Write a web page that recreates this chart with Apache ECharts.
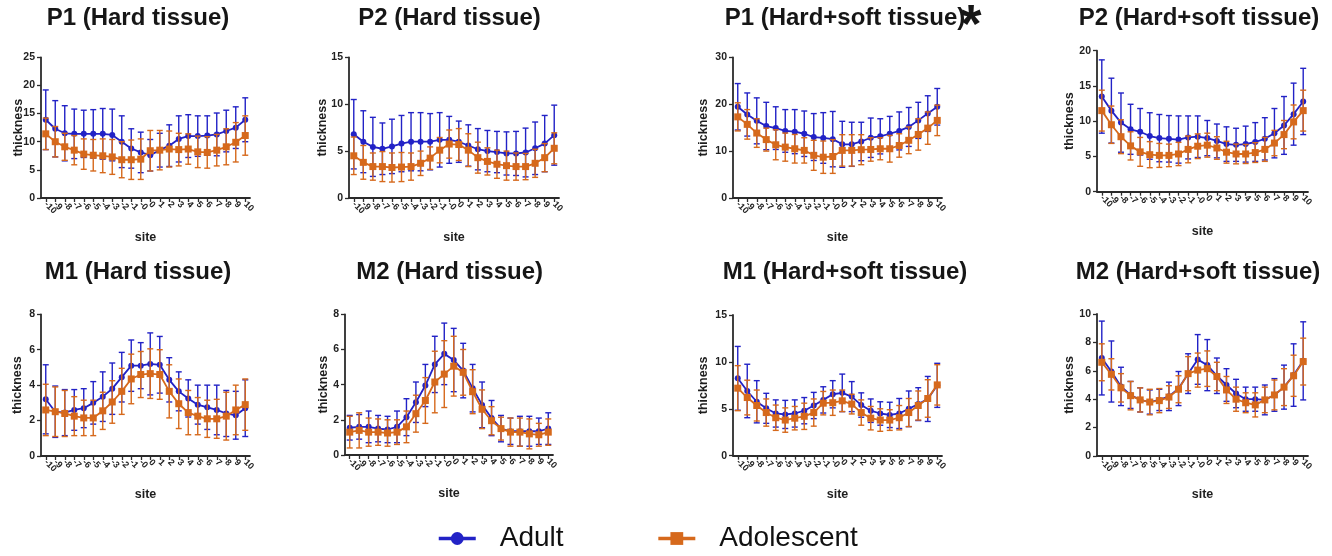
<!DOCTYPE html>
<html><head><meta charset="utf-8">
<script src="https://cdn.jsdelivr.net/npm/echarts@6/dist/echarts.min.js"></script>
<style>html,body{margin:0;padding:0;background:#fff}#c{width:1332px;height:556px}</style>
</head><body><div id="c"></div>
<script>
// ---------------- DATA ----------------
const sites = ['-10','-9','-8','-7','-6','-5','-4','-3','-2','-1','-0','0','1','2','3','4','5','6','7','8','9','10'];
const panelTitles = ['P1 (Hard tissue)','P2 (Hard tissue)','P1 (Hard+soft tissue)','P2 (Hard+soft tissue)',
                     'M1 (Hard tissue)','M2 (Hard tissue)','M1 (Hard+soft tissue)','M2 (Hard+soft tissue)'];
const yMax  = [25, 15, 30, 20, 8, 8, 15, 10];
const yStep = [5, 5, 10, 5, 2, 2, 5, 2];
const seriesNames = ['Adult', 'Adolescent'];

// P1 (Hard tissue)
const p1HardAdultMean = [13.9,12.3,11.5,11.4,11.4,11.4,11.4,11.2,10.0,8.8,8.1,7.6,8.5,9.3,10.5,11.0,11.0,11.1,11.3,11.9,12.5,13.9];
const p1HardAdultSD   = [5.3,5.0,4.9,4.4,4.2,4.3,4.5,4.6,4.6,3.5,3.6,2.8,3.0,3.7,4.1,3.8,3.6,3.5,3.8,3.7,3.7,3.9];
const p1HardAdolMean  = [11.4,10.0,9.1,8.5,7.8,7.6,7.5,7.3,6.8,6.8,6.9,8.4,8.5,8.7,8.6,8.7,8.2,8.1,8.5,9.1,9.9,11.1];
const p1HardAdolSD    = [2.8,2.7,2.4,2.6,2.7,2.8,3.0,3.1,3.2,3.5,3.6,3.6,3.5,3.2,2.9,2.7,2.8,2.8,2.8,3.2,3.5,3.5];
// P2 (Hard tissue)
const p2HardAdultMean = [6.8,6.0,5.45,5.25,5.5,5.8,6.0,6.0,6.0,6.2,6.2,6.0,5.6,5.2,5.0,4.9,4.75,4.75,4.85,5.3,5.8,6.7];
const p2HardAdultSD   = [3.7,3.3,3.15,2.75,2.9,3.0,3.1,3.1,3.0,2.9,2.5,2.2,2.2,2.2,2.2,2.2,2.3,2.35,2.6,2.8,3.0,3.2];
const p2HardAdolMean  = [4.5,3.8,3.35,3.35,3.25,3.3,3.35,3.7,4.25,5.1,5.75,5.7,5.1,4.3,3.9,3.6,3.45,3.35,3.35,3.7,4.3,5.3];
const p2HardAdolSD    = [2.0,1.8,1.45,1.6,1.55,1.55,1.45,1.3,1.2,1.35,1.5,1.7,1.75,1.65,1.45,1.5,1.55,1.45,1.4,1.5,1.5,1.65];
// P1 (Hard+soft tissue)
const p1SoftAdultMean = [19.45,17.8,16.45,15.35,14.9,14.3,14.15,13.7,13.0,12.8,12.55,11.45,11.45,12.05,12.85,13.15,13.7,14.3,15.15,16.55,18.0,19.45];
const p1SoftAdultSD   = [4.95,4.6,4.9,5.05,4.55,4.55,4.7,4.85,5.0,5.4,5.9,4.9,4.7,4.1,4.2,3.75,3.7,4.05,4.15,3.85,3.8,3.9];
const p1SoftAdolMean  = [17.3,15.7,13.85,12.45,11.35,10.85,10.5,10.15,9.1,8.7,8.85,10.15,10.15,10.3,10.35,10.5,10.5,11.2,12.3,13.55,14.9,16.55];
const p1SoftAdolSD    = [3.0,3.15,3.05,2.45,3.2,3.0,3.05,2.7,3.2,3.45,3.6,3.35,3.35,3.2,2.5,2.35,2.85,2.5,2.85,3.35,3.45,3.25];
// P2 (Hard+soft tissue)
const p2SoftAdultMean = [13.5,11.5,9.8,8.85,8.5,7.9,7.6,7.5,7.4,7.7,7.8,7.6,7.2,6.75,6.65,6.75,7.05,7.5,8.3,9.4,11.0,12.8];
const p2SoftAdultSD   = [5.2,4.6,4.2,3.55,3.3,3.3,3.35,3.3,3.35,3.05,2.95,2.5,2.4,2.45,2.35,2.55,2.75,3.0,3.5,4.1,4.4,4.7];
const p2SoftAdolMean  = [11.5,9.5,7.8,6.5,5.65,5.25,5.15,5.15,5.35,6.0,6.45,6.6,6.2,5.6,5.35,5.35,5.55,6.0,6.9,8.1,9.9,11.5];
const p2SoftAdolSD    = [2.9,2.65,2.4,2.0,2.05,1.85,1.7,1.6,1.65,1.9,1.75,1.7,1.6,1.55,1.4,1.35,1.4,1.7,1.8,2.0,2.4,2.9];
// M1 (Hard tissue)
const m1HardAdultMean = [3.2,2.5,2.45,2.6,2.7,3.0,3.35,3.8,4.45,5.1,5.1,5.2,5.15,4.3,3.65,3.25,2.9,2.75,2.6,2.4,2.3,2.7];
const m1HardAdultSD   = [1.95,1.45,1.3,1.15,1.1,1.2,1.4,1.45,1.4,1.45,1.3,1.75,1.6,1.25,1.1,1.05,1.1,1.25,1.4,1.3,1.35,1.6];
const m1HardAdolMean  = [2.6,2.5,2.4,2.25,2.15,2.15,2.55,3.05,3.65,4.35,4.6,4.65,4.6,3.65,2.95,2.45,2.25,2.1,2.1,2.25,2.6,2.9];
const m1HardAdolSD    = [1.45,1.4,1.3,1.1,1.0,1.0,1.05,1.2,1.3,1.4,1.3,1.4,1.4,1.5,1.4,1.25,1.05,1.05,1.1,1.35,1.4,1.45];
// M2 (Hard tissue)
const m2HardAdultMean = [1.55,1.6,1.6,1.5,1.45,1.6,2.15,3.0,3.95,5.15,5.75,5.4,4.8,3.8,2.85,2.1,1.5,1.35,1.35,1.35,1.35,1.5];
const m2HardAdultSD   = [0.7,0.7,0.9,0.75,0.75,0.9,1.05,1.15,1.2,1.6,1.75,1.8,1.55,1.35,1.3,1.0,0.75,0.75,0.85,0.85,0.75,0.9];
const m2HardAdolMean  = [1.3,1.4,1.3,1.3,1.25,1.3,1.6,2.35,3.1,4.15,4.6,5.05,4.7,3.6,2.6,1.95,1.5,1.3,1.3,1.2,1.15,1.3];
const m2HardAdolSD    = [0.9,1.0,0.8,0.75,0.75,0.7,0.9,1.05,1.3,1.75,1.9,1.7,1.3,1.25,1.1,0.8,0.65,0.8,0.8,0.85,0.65,0.75];
// M1 (Hard+soft tissue)
const m1SoftAdultMean = [8.25,6.9,5.75,5.05,4.5,4.4,4.5,4.8,5.35,5.95,6.55,6.7,6.3,5.4,4.8,4.5,4.35,4.5,5.0,5.5,6.05,7.5];
const m1SoftAdultSD   = [3.4,2.85,2.25,1.6,1.45,1.5,1.45,1.4,1.4,1.4,1.45,2.0,1.6,1.3,1.25,1.25,1.35,1.6,1.9,1.75,2.4,2.35];
const m1SoftAdolMean  = [7.2,6.2,5.35,4.6,4.05,3.8,4.0,4.2,4.6,5.6,5.65,5.85,5.5,4.6,4.0,3.8,3.8,4.05,4.6,5.35,6.1,7.55];
const m1SoftAdolSD    = [2.4,1.85,1.65,1.45,1.35,1.3,1.25,1.4,1.45,1.25,1.35,1.15,1.05,1.35,1.25,1.2,1.1,1.3,1.5,1.55,2.0,2.15];
// M2 (Hard+soft tissue)
const m2SoftAdultMean = [6.9,5.95,4.9,4.3,3.95,3.8,3.95,4.2,4.75,5.8,6.8,6.4,5.65,5.0,4.4,4.0,4.0,3.95,4.3,4.85,5.7,6.7];
const m2SoftAdultSD   = [2.6,2.15,1.35,0.95,0.85,0.85,0.75,1.0,1.2,1.4,1.75,1.8,1.25,1.15,1.0,0.85,0.85,1.05,1.15,1.55,2.2,2.75];
const m2SoftAdolMean  = [6.6,5.75,4.8,4.25,3.95,3.8,3.9,4.15,4.7,5.8,6.05,6.15,5.6,4.65,4.0,3.75,3.6,3.95,4.3,4.85,5.65,6.65];
const m2SoftAdolSD    = [1.3,1.1,1.0,1.0,0.85,0.9,0.85,0.8,0.95,1.2,1.2,1.25,1.0,0.95,0.85,0.7,0.85,0.9,1.05,1.3,1.45,1.65];

const panelData = [
  [p1HardAdultMean, p1HardAdultSD, p1HardAdolMean, p1HardAdolSD],
  [p2HardAdultMean, p2HardAdultSD, p2HardAdolMean, p2HardAdolSD],
  [p1SoftAdultMean, p1SoftAdultSD, p1SoftAdolMean, p1SoftAdolSD],
  [p2SoftAdultMean, p2SoftAdultSD, p2SoftAdolMean, p2SoftAdolSD],
  [m1HardAdultMean, m1HardAdultSD, m1HardAdolMean, m1HardAdolSD],
  [m2HardAdultMean, m2HardAdultSD, m2HardAdolMean, m2HardAdolSD],
  [m1SoftAdultMean, m1SoftAdultSD, m1SoftAdolMean, m1SoftAdolSD],
  [m2SoftAdultMean, m2SoftAdultSD, m2SoftAdolMean, m2SoftAdolSD]
];

// ---------------- LAYOUT / STYLE ----------------
const FONT = '"Liberation Sans", Arial, Helvetica, sans-serif';
const BLUE = '#2222c6';
const ORANGE = '#d6691c';
const AXIS = '#2b2b2b';
const layout = [
  {left: 41,   top: 57.3,  width: 209, height: 140.7, yGap: 16, xGap: 33, tx: 138,   ty: 18.7},
  {left: 349,  top: 57.3,  width: 210, height: 140.7, yGap: 20, xGap: 33, tx: 449.5, ty: 18.7},
  {left: 733,  top: 57.3,  width: 209, height: 140.7, yGap: 23, xGap: 33, tx: 845,   ty: 18.7},
  {left: 1097, top: 50.7,  width: 211, height: 141,   yGap: 21, xGap: 33, tx: 1199,  ty: 18.7},
  {left: 41,   top: 314.3, width: 209, height: 141.7, yGap: 17, xGap: 32, tx: 138,   ty: 272},
  {left: 345,  top: 314.3, width: 208, height: 140.7, yGap: 15, xGap: 32, tx: 449.7, ty: 272},
  {left: 733,  top: 315,   width: 209, height: 140.7, yGap: 23, xGap: 32, tx: 845,   ty: 272},
  {left: 1097, top: 314,   width: 211, height: 142,   yGap: 21, xGap: 32, tx: 1198,  ty: 272}
];

function renderErr(params, api) {
  const x = api.value(0), m = api.value(1), s = api.value(2);
  const top = api.coord([x, m + s]);
  const bot = api.coord([x, m - s]);
  const hw = 3;
  const style = {stroke: api.visual('color'), lineWidth: 1.4};
  return {type: 'group', children: [
    {type: 'line', shape: {x1: top[0], y1: top[1], x2: bot[0], y2: bot[1]}, style: style},
    {type: 'line', shape: {x1: top[0] - hw, y1: top[1], x2: top[0] + hw, y2: top[1]}, style: style},
    {type: 'line', shape: {x1: bot[0] - hw, y1: bot[1], x2: bot[0] + hw, y2: bot[1]}, style: style}
  ]};
}

const grids = [], xAxes = [], yAxes = [], series = [], titles = [];
layout.forEach(function (L, i) {
  grids.push({left: L.left, top: L.top, width: L.width, height: L.height, containLabel: false, outerBoundsMode: 'none'});
  xAxes.push({
    gridIndex: i, type: 'category', data: sites, boundaryGap: true,
    name: 'site', nameLocation: 'middle', nameGap: L.xGap, nameMoveOverlap: false,
    nameTextStyle: {fontSize: 12.5, fontWeight: 'bold', color: '#1e1e1e', fontFamily: FONT},
    axisLine: {show: true, onZero: false, lineStyle: {color: AXIS, width: 1.8}},
    axisTick: {show: true, alignWithLabel: true, interval: 0, length: 4, lineStyle: {color: AXIS, width: 1.3}},
    axisLabel: {interval: 0, rotate: -45, fontSize: 9, fontWeight: 'bold', color: '#222', margin: 5, fontFamily: FONT},
    splitLine: {show: false}
  });
  yAxes.push({
    gridIndex: i, type: 'value', min: 0, max: yMax[i], interval: yStep[i],
    name: 'thickness', nameLocation: 'middle', nameGap: L.yGap, nameMoveOverlap: false,
    nameTextStyle: {fontSize: 12.5, fontWeight: 'bold', color: '#1e1e1e', fontFamily: FONT},
    axisLine: {show: true, lineStyle: {color: AXIS, width: 1.8}},
    axisTick: {show: true, length: 4, lineStyle: {color: AXIS, width: 1.3}},
    axisLabel: {fontSize: 10.5, fontWeight: 'bold', color: '#222', margin: 6, fontFamily: FONT},
    splitLine: {show: false}
  });
  const d = panelData[i];
  series.push({
    name: seriesNames[0], type: 'line', xAxisIndex: i, yAxisIndex: i, data: d[0], z: 3,
    symbol: 'circle', symbolSize: 6, color: BLUE,
    itemStyle: {color: BLUE}, lineStyle: {color: BLUE, width: 1.8}
  });
  series.push({
    name: seriesNames[1], type: 'line', xAxisIndex: i, yAxisIndex: i, data: d[2], z: 5,
    symbol: 'rect', symbolSize: 7, color: ORANGE,
    itemStyle: {color: ORANGE}, lineStyle: {color: ORANGE, width: 1.8}
  });
  series.push({
    name: seriesNames[0], type: 'custom', xAxisIndex: i, yAxisIndex: i, z: 2,
    itemStyle: {color: BLUE}, renderItem: renderErr, encode: {x: 0, y: 1},
    data: d[0].map(function (m, k) { return [k, m, d[1][k]]; })
  });
  series.push({
    name: seriesNames[1], type: 'custom', xAxisIndex: i, yAxisIndex: i, z: 4,
    itemStyle: {color: ORANGE}, renderItem: renderErr, encode: {x: 0, y: 1},
    data: d[2].map(function (m, k) { return [k, m, d[3][k]]; })
  });
  titles.push({
    text: panelTitles[i], left: L.tx, top: L.ty, textAlign: 'center', textVerticalAlign: 'middle', padding: 0,
    textStyle: {fontSize: 24, fontWeight: 'bold', color: '#161616', fontFamily: FONT}
  });
});
// asterisk on P1 (Hard+soft tissue)
titles.push({
  text: '*', left: 971, top: 27, textAlign: 'center', textVerticalAlign: 'middle', padding: 0,
  textStyle: {fontSize: 54, fontWeight: 'bold', color: '#161616', fontFamily: FONT}
});

const chart = echarts.init(document.getElementById('c'), null, {renderer: 'canvas'});
chart.setOption({
  animation: false,
  backgroundColor: '#ffffff',
  title: titles,
  legend: {
    data: seriesNames, left: 437, top: 524.5, padding: 0, orient: 'horizontal',
    itemWidth: 37, itemHeight: 16, itemGap: 93, selectedMode: false,
    lineStyle: {width: 3.5},
    textStyle: {fontSize: 28, color: '#111', fontFamily: FONT, padding: [0, 0, 0, 19]}
  },
  grid: grids, xAxis: xAxes, yAxis: yAxes, series: series
});
</script></body></html>
